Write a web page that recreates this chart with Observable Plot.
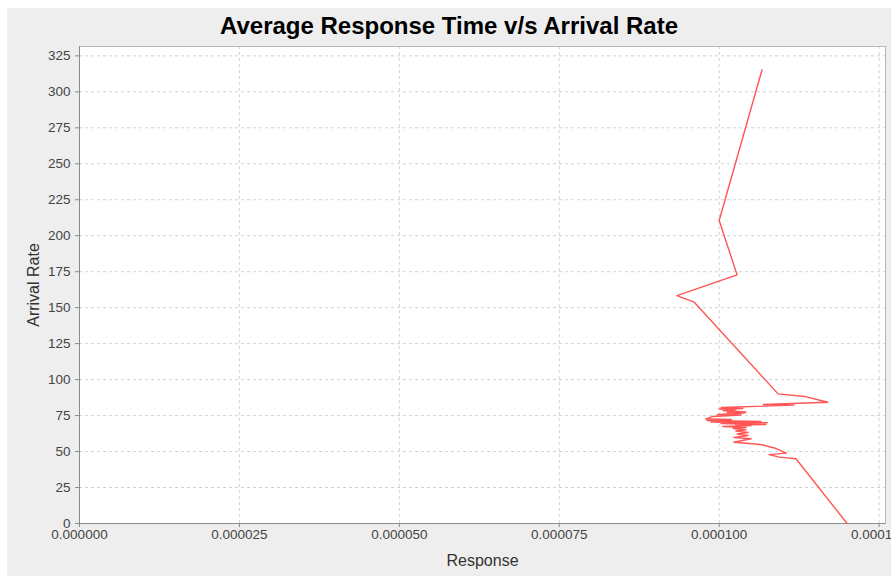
<!DOCTYPE html>
<html>
<head>
<meta charset="utf-8">
<script src="https://cdn.jsdelivr.net/npm/d3@7"></script>
<script src="https://cdn.jsdelivr.net/npm/@observablehq/plot@0.6"></script>
<style>
  html, body { margin: 0; padding: 0; background: #ffffff; }
  #panel {
    position: absolute; left: 7px; top: 8px; width: 884px; height: 568px;
    background: #eeeeee; font-family: "Liberation Sans", Arial, sans-serif;
  }
  #title {
    position: absolute; left: 0; top: 0; width: 100%; height: 36px;
    text-align: center; font-weight: bold; font-size: 24px; line-height: 36px; color: #000;
  }
  #chart { position: absolute; left: 0; top: 36px; }
</style>
</head>
<body>
<div id="panel">
  <div id="title">Average Response Time v/s Arrival Rate</div>
  <div id="chart"></div>
</div>
<script>
// Measured average response time (seconds) at each arrival rate, in sampling order
const responseTime = [
  0.0001067, 0.0001000, 0.0001028, 0.0000934, 0.0000961,
  0.0001092, 0.0001133, 0.0001170, 0.0001069, 0.0001117,
  0.0001003, 0.0001037, 0.0001000, 0.0001026, 0.0001006,
  0.0001042, 0.0001012, 0.0001040, 0.0000997, 0.0001034,
  0.0000990, 0.0000979, 0.0001019, 0.0000981, 0.0001065,
  0.0000987, 0.0001075, 0.0001003, 0.0001073, 0.0001026,
  0.0001050, 0.0001006, 0.0001042, 0.0001022, 0.0001042,
  0.0001026, 0.0001045, 0.0001028, 0.0001045, 0.0001023,
  0.0001050, 0.0001023, 0.0001065, 0.0001089, 0.0001105,
  0.0001078, 0.0001094, 0.0001120, 0.0001200
];
const arrivalRate = [
  315.3, 210.6, 172.8, 158.4, 153.8,
  90.1, 88.3, 84.3, 82.7, 82.3,
  80.6, 79.9, 79.6, 79.2, 78.5,
  77.5, 77.1, 76.8, 75.7, 75.4,
  74.4, 72.6, 72.3, 71.6, 70.9,
  70.5, 70.0, 69.5, 68.8, 68.5,
  68.1, 67.4, 66.7, 66.0, 65.1,
  64.3, 63.2, 62.2, 61.2, 59.8,
  58.9, 56.5, 54.9, 52.1, 48.9,
  47.9, 46.1, 45.0, 0.0
];
const xTicks = [0, 0.000025, 0.00005, 0.000075, 0.0001, 0.000125];
const yTicks = [0, 25, 50, 75, 100, 125, 150, 175, 200, 225, 250, 275, 300, 325];

const samples = responseTime.map((r, i) => ({response: r, rate: arrivalRate[i]}));

const gridStyle = {stroke: "#d2d2d2", strokeOpacity: 1, strokeDasharray: "3,3"};

const chart = Plot.plot({
  width: 884,
  height: 532,
  marginLeft: 72,
  marginRight: 6,
  marginTop: 2,
  marginBottom: 53,
  style: {background: "transparent", fontFamily: "'Liberation Sans', Arial, sans-serif", overflow: "visible"},
  x: {domain: [0, 0.000126]},
  y: {domain: [0, 331.5]},
  marks: [
    Plot.frame({fill: "white", stroke: null}),
    Plot.gridX({ticks: xTicks, ...gridStyle}),
    Plot.gridY({ticks: yTicks, ...gridStyle}),
    Plot.frame({stroke: "#b8b8b8"}),
    Plot.ruleX([0], {stroke: "#8a8a8a"}),
    Plot.ruleY([0], {stroke: "#8a8a8a"}),
    Plot.line(samples, {x: "response", y: "rate", stroke: "#ff5555", strokeWidth: 1.4}),
    Plot.axisX({ticks: xTicks, tickFormat: d3.format(".6f"), tickSize: 4, tickPadding: 2,
      fontSize: 13.5, stroke: "#8a8a8a", fill: "#444", label: null}),
    Plot.axisY({ticks: yTicks, tickSize: 4, tickPadding: 5,
      fontSize: 13.5, stroke: "#8a8a8a", fill: "#444", label: null}),
    Plot.text(["Response"], {frameAnchor: "bottom", dy: 42, fontSize: 16, fill: "#333"}),
    Plot.text(["Arrival Rate"], {frameAnchor: "left", textAnchor: "middle", dx: -46, rotate: -90,
      fontSize: 16, fill: "#333"})
  ]
});

document.getElementById("chart").appendChild(chart);
</script>
</body>
</html>
